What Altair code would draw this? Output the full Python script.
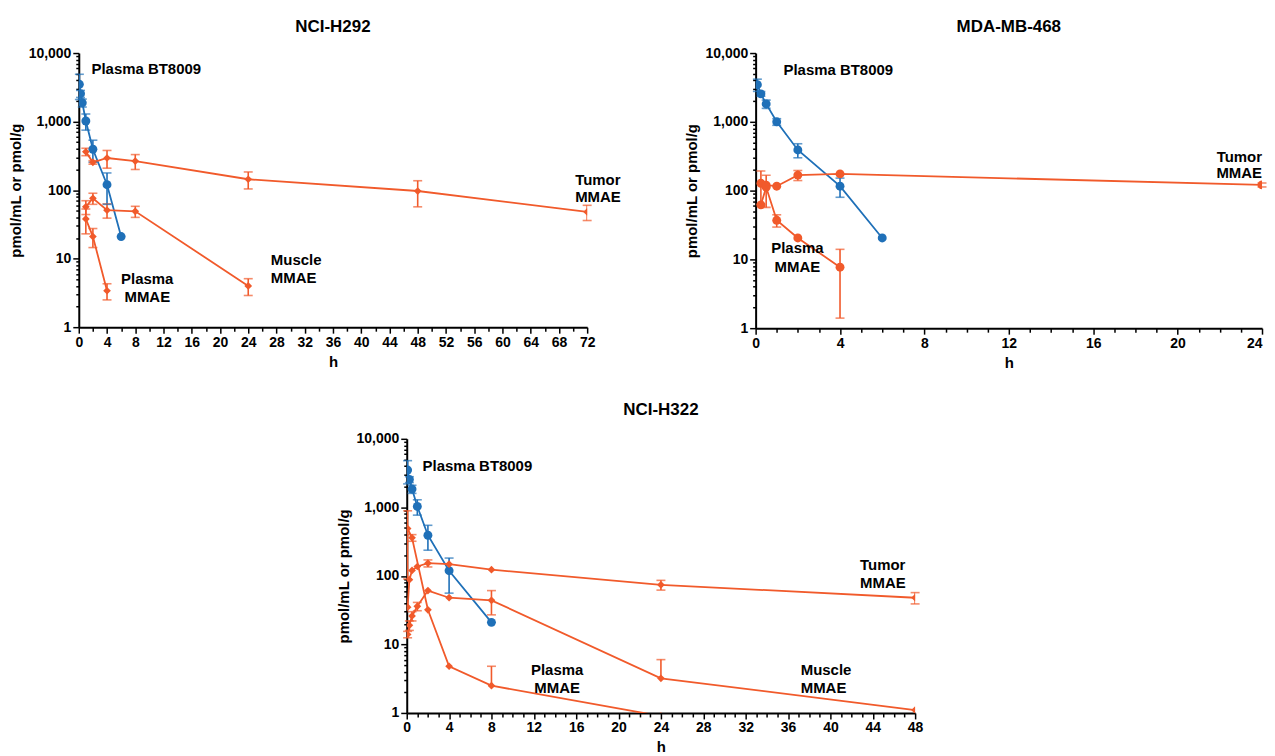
import altair as alt
import pandas as pd

BLUE = "#1f70b8"
ORANGE = "#f15a2b"
FONT = "Liberation Sans"

# ---------------- NCI-H292 ----------------
h292_bt_t = [0.083, 0.25, 0.5, 1, 2, 4, 6]
h292_bt_v = [3500, 2550, 1880, 1020, 395, 120, 21]
h292_bt_sd = [1400, 300, 250, 270, 140, 58, 0]
h292_tumor_t = [1, 2, 4, 8, 24, 48, 72]
h292_tumor_v = [363, 254, 294, 265, 144, 97, 48]
h292_tumor_sd = [45, 15, 85, 65, 40, 40, 12]
h292_muscle_t = [1, 2, 4, 8, 24]
h292_muscle_v = [57, 76, 51, 49, 4.0]
h292_muscle_sd = [13, 14, 12, 9, 1.1]
h292_plasma_t = [1, 2, 4]
h292_plasma_v = [38, 21, 3.4]
h292_plasma_sd = [15, 6.5, 0.9]
h292_ann_text = ["Plasma BT8009", "Plasma", "MMAE", "Muscle", "MMAE", "Tumor", "MMAE"]
h292_ann_x = [1.8, 9.7, 9.7, 27.2, 27.2, 70.3, 70.3]
h292_ann_y = [5800, 5.1, 2.8, 9.4, 5.3, 141, 80]
h292_ann_align = ["left", "center", "center", "left", "left", "left", "left"]

# ---------------- MDA-MB-468 ----------------
m468_bt_t = [0.083, 0.25, 0.5, 1, 2, 4, 6]
m468_bt_v = [3470, 2550, 1820, 1000, 390, 116, 20.5]
m468_bt_sd = [700, 200, 250, 110, 90, 36, 0]
m468_tumor_t = [0.25, 0.5, 1, 2, 4, 24]
m468_tumor_v = [128, 120, 116, 168, 175, 121]
m468_tumor_sd = [65, 0, 0, 28, 0, 8]
m468_plasma_t = [0.25, 0.5, 1, 2, 4]
m468_plasma_v = [62, 112, 37, 20.5, 7.7]
m468_plasma_sd = [0, 55, 7.5, 0, 6.3]
m468_ann_text = ["Plasma BT8009", "Plasma", "MMAE", "Tumor", "MMAE"]
m468_ann_x = [1.32, 1.98, 1.98, 24.0, 24.0]
m468_ann_y = [5700, 14.6, 7.8, 313, 178]
m468_ann_align = ["left", "center", "center", "right", "right"]

# ---------------- NCI-H322 ----------------
h322_bt_t = [0.083, 0.25, 0.5, 1, 2, 4, 8]
h322_bt_v = [3500, 2550, 1850, 1030, 392, 119, 21]
h322_bt_sd = [1300, 250, 250, 260, 155, 63, 0]
h322_tumor_t = [0.083, 0.25, 0.5, 1, 2, 4, 8, 24, 48]
h322_tumor_v = [35, 88, 120, 137, 153, 148, 123, 74, 48]
h322_tumor_sd = [0, 0, 0, 0, 18, 0, 0, 12, 9]
h322_muscle_t = [0.083, 0.25, 0.5, 1, 2, 4, 8, 24, 48]
h322_muscle_v = [14, 19, 26, 36, 61, 48, 44, 3.2, 1.1]
h322_muscle_sd = [1.5, 3, 4, 5, 0, 0, 17, 2.8, 0]
h322_plasma_t = [0.083, 0.5, 2, 4, 8, 24]
h322_plasma_v = [490, 360, 32, 4.8, 2.5, 0.9]
h322_plasma_sd = [400, 40, 0, 0, 2.3, 0]
h322_ann_text = ["Plasma BT8009", "Plasma", "MMAE", "Muscle", "MMAE", "Tumor", "MMAE"]
h322_ann_x = [1.5, 14.2, 14.2, 37.2, 37.2, 42.8, 42.8]
h322_ann_y = [4060, 4.26, 2.33, 4.26, 2.33, 143, 78]
h322_ann_align = ["left", "center", "center", "left", "left", "left", "left"]

YTITLE = "pmol/mL or pmol/g"
DEC_TEST = "abs(log(datum.value)/LN10 - round(log(datum.value)/LN10)) < 0.000001"


def build_df(series):
    rows = []
    for name, ts, vs, sds, color, shape, size in series:
        for t, v, sd in zip(ts, vs, sds):
            has = sd > 0
            lo_ok = has and (v - sd) >= 1
            rows.append(dict(
                series=name, t=t, v=v, color=color, shape=shape, size=size,
                hi=(v + sd) if has else None,
                lo=(v - sd) if lo_ok else (v if has else None),
                locap=(v - sd) if lo_ok else None,
            ))
    return pd.DataFrame(rows)


def make_panel(title, series, xmax, minor_step, ann, width, height, title_offset):
    df = build_df(series)
    yvals = [k * 10 ** e for e in range(4) for k in range(1, 10)] + [10000]
    xvals = []
    v = 0.0
    while v <= xmax + 1e-9:
        xvals.append(round(v, 3))
        v += minor_step
    xaxis = alt.Axis(
        values=xvals,
        labelExpr="datum.value % 4 == 0 ? datum.value : ''",
        labelAlign={"condition": {"test": "datum.value == %d && %d == 24" % (xmax, xmax),
                                  "value": "right"}, "value": "center"},
        tickSize={"condition": {"test": "datum.value % 4 == 0", "value": 6}, "value": 4},
        grid=False,
    )
    yaxis = alt.Axis(
        values=yvals,
        labelExpr=DEC_TEST + " ? format(datum.value, ',') : ''",
        tickSize={"condition": {"test": DEC_TEST, "value": 6}, "value": 3},
        grid=False,
    )
    xs = alt.Scale(domain=[0, xmax], nice=False, zero=False)
    ys = alt.Scale(type="log", domain=[1, 10000], nice=False)

    def X(f):
        return alt.X(f + ":Q", scale=xs, axis=xaxis, title="h")

    def Y(f):
        return alt.Y(f + ":Q", scale=ys, axis=yaxis, title=YTITLE)

    col = alt.Color("color:N", scale=None, legend=None)
    base = alt.Chart(df)
    lines = base.mark_line(clip=True, strokeWidth=1.8).encode(
        x=X("t"), y=Y("v"), color=col, detail="series:N", order="t:Q")
    bars = base.transform_filter("isValid(datum.hi)").mark_rule(strokeWidth=1.6, clip=True).encode(
        x=X("t"), y=Y("lo"), y2="hi:Q", color=col)
    capu = base.transform_filter("isValid(datum.hi)").mark_tick(
        orient="horizontal", size=9, thickness=1.6).encode(x=X("t"), y=Y("hi"), color=col)
    capl = base.transform_filter("isValid(datum.locap)").mark_tick(
        orient="horizontal", size=9, thickness=1.6).encode(x=X("t"), y=Y("locap"), color=col)
    pts = base.mark_point(filled=True, opacity=1, clip=True).encode(
        x=X("t"), y=Y("v"), color=col,
        shape=alt.Shape("shape:N", scale=None),
        size=alt.Size("size:Q", scale=None))
    layers = [lines, bars, capu, capl, pts]

    adf = pd.DataFrame({"text": ann[0], "x": ann[1], "y": ann[2], "align": ann[3]})
    for al in ["left", "center", "right"]:
        sub = adf[adf["align"] == al]
        if len(sub) == 0:
            continue
        layers.append(alt.Chart(sub).mark_text(
            align=al, baseline="middle", font=FONT, fontSize=15, fontWeight="bold", color="black"
        ).encode(x=X("x"), y=Y("y"), text="text:N"))

    return alt.layer(*layers).properties(
        width=width, height=height,
        title=alt.TitleParams(title, fontSize=17, fontWeight="bold", font=FONT,
                              offset=title_offset, anchor="middle"))


p1 = make_panel("NCI-H292", [
    ("bt", h292_bt_t, h292_bt_v, h292_bt_sd, BLUE, "circle", 80),
    ("tumor", h292_tumor_t, h292_tumor_v, h292_tumor_sd, ORANGE, "diamond", 60),
    ("muscle", h292_muscle_t, h292_muscle_v, h292_muscle_sd, ORANGE, "diamond", 60),
    ("plasma", h292_plasma_t, h292_plasma_v, h292_plasma_sd, ORANGE, "diamond", 60),
], 72, 2, (h292_ann_text, h292_ann_x, h292_ann_y, h292_ann_align), 510, 275, 10)

p2 = make_panel("MDA-MB-468", [
    ("bt", m468_bt_t, m468_bt_v, m468_bt_sd, BLUE, "circle", 80),
    ("tumor", m468_tumor_t, m468_tumor_v, m468_tumor_sd, ORANGE, "circle", 80),
    ("plasma", m468_plasma_t, m468_plasma_v, m468_plasma_sd, ORANGE, "circle", 80),
], 24, 1, (m468_ann_text, m468_ann_x, m468_ann_y, m468_ann_align), 508, 276, 10)

p3 = make_panel("NCI-H322", [
    ("bt", h322_bt_t, h322_bt_v, h322_bt_sd, BLUE, "circle", 80),
    ("tumor", h322_tumor_t, h322_tumor_v, h322_tumor_sd, ORANGE, "diamond", 60),
    ("muscle", h322_muscle_t, h322_muscle_v, h322_muscle_sd, ORANGE, "diamond", 60),
    ("plasma", h322_plasma_t, h322_plasma_v, h322_plasma_sd, ORANGE, "diamond", 60),
], 48, 1, (h322_ann_text, h322_ann_x, h322_ann_y, h322_ann_align), 510, 275, 13)

spacer = alt.Chart(pd.DataFrame({"a": [0]})).mark_point(opacity=0, size=1).encode(
    x=alt.value(0), y=alt.value(0)).properties(width=258, height=1)

top = alt.hconcat(p1, p2, spacing=64)
bottom = alt.hconcat(spacer, p3, spacing=0)
chart = alt.vconcat(top, bottom, spacing=31).properties(
    padding={"left": 0, "top": 9, "right": 0, "bottom": 0}
).configure_view(stroke=None).configure_axis(
    domainColor="black", domainWidth=2, tickColor="black", tickWidth=1.5,
    labelFont=FONT, labelFontSize=14, labelFontWeight="bold", labelColor="black",
    titleFont=FONT, titleFontSize=15, titleFontWeight="bold", titleColor="black",
    labelPadding=2, titlePadding=5,
)

chart.save("out.html", embed_options={"renderer": "svg", "actions": False})
